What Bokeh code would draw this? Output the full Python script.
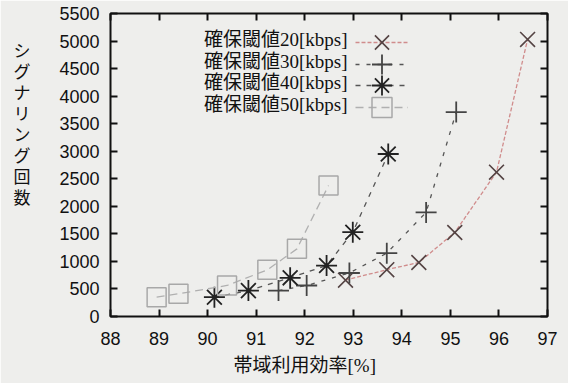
from bokeh.plotting import figure
from bokeh.models import (Range1d, LinearAxis, Label, Legend, LegendItem,
                          FixedTicker, Title)
from bokeh.embed import file_html
from bokeh.resources import INLINE

# ---- data ----
x20 = [92.84, 93.69, 94.35, 95.09, 95.95, 96.59]
y20 = [660, 850, 980, 1525, 2620, 5030]
x30 = [91.46, 92.04, 92.92, 93.69, 94.50, 95.12]
y30 = [470, 563, 790, 1150, 1890, 3710]
x40 = [90.14, 90.84, 91.70, 92.45, 92.99, 93.72]
y40 = [350, 470, 702, 925, 1530, 2950]
x50 = [88.95, 89.40, 90.40, 91.23, 91.84, 92.49]
y50 = [350, 412, 563, 847, 1228, 2378]

series_labels = ["確保閾値20[kbps]", "確保閾値30[kbps]",
                 "確保閾値40[kbps]", "確保閾値50[kbps]"]
x_ticks = list(range(88, 98))
y_ticks = list(range(0, 5501, 500))
x_title = "帯域利用効率[%]"
y_title = "シグナリング回数"

BG = "#eeeeec"
TICK_FONT = "Liberation Sans"
CJK_SERIF = "'Liberation Serif', 'Noto Sans CJK JP'"

p = figure(width=568, height=383, output_backend="svg", toolbar_location=None,
           x_range=Range1d(88, 97), y_range=Range1d(0, 5500),
           min_border_left=110, min_border_right=21, min_border_top=13,
           min_border_bottom=67, x_axis_location=None, y_axis_location=None)
p.background_fill_color = BG
p.border_fill_color = BG
p.outline_line_color = "#111111"
p.outline_line_width = 2
p.xgrid.visible = False
p.ygrid.visible = False


def style_axis(ax, ticks, show_labels, standoff=11):
    ax.ticker = FixedTicker(ticks=ticks)
    ax.axis_line_color = None
    ax.major_tick_in = 7
    ax.major_tick_out = 0
    ax.major_tick_line_width = 2
    ax.major_tick_line_color = "#111111"
    ax.minor_tick_line_color = None
    if show_labels:
        ax.major_label_text_font = TICK_FONT
        ax.major_label_text_font_size = "18px"
        ax.major_label_text_color = "#111111"
        ax.major_label_standoff = standoff
    else:
        ax.major_label_text_font_size = "0px"
        ax.major_label_standoff = 0


bx = LinearAxis(); style_axis(bx, x_ticks, True, 15); p.add_layout(bx, "below")
lx = LinearAxis(); style_axis(lx, y_ticks, True, 11)
# vertical (stacked) title; trailing blank lines lift it towards the top
lx.axis_label = "\n".join(y_title) + "\n" * 4
lx.axis_label_orientation = "horizontal"
lx.axis_label_text_font = "Noto Sans CJK JP"
lx.axis_label_text_font_size = "17px"
lx.axis_label_text_font_style = "normal"
lx.axis_label_text_color = "#111111"
lx.axis_label_text_line_height = 0.84
lx.axis_label_standoff = 26
p.add_layout(lx, "left")
tx = LinearAxis(); style_axis(tx, x_ticks, False); p.add_layout(tx, "above")
rx = LinearAxis(); style_axis(rx, y_ticks, False); p.add_layout(rx, "right")

p.add_layout(Title(text=x_title, align="left", offset=123, standoff=10,
                   vertical_align="bottom",
                   text_font=CJK_SERIF, text_font_size="19px",
                   text_font_style="normal", text_color="#111111"), "below")

# ---- series ----
l20 = p.line(x20, y20, line_color="#d08c8c", line_width=1.3, line_dash="4 2")
s20 = p.scatter(x20, y20, marker="x", size=21, line_color="#554444", line_width=1.6)
l30 = p.line(x30, y30, line_color="#555555", line_width=1.3, line_dash="4 7")
s30 = p.scatter(x30, y30, marker="cross", size=21, line_color="#444444", line_width=1.8)
l40 = p.line(x40, y40, line_color="#555555", line_width=1.3, line_dash="5 6")
s40 = p.scatter(x40, y40, marker="asterisk", size=21, line_color="#222222", line_width=1.8)
l50 = p.line(x50, y50, line_color="#b0b0b0", line_width=1.3, line_dash="8 5")
s50 = p.scatter(x50, y50, marker="square", size=19, fill_color=None,
                line_color="#a8a8a8", line_width=1.5)

# one legend per row (samples to the right of the texts, as in the original)
for i, (l, s) in enumerate([(l20, s20), (l30, s30), (l40, s40), (l50, s50)]):
    row_center = 29 + i * 21.5          # px below frame top
    leg = Legend(items=[LegendItem(label=" ", renderers=[l, s])],
                 location=(245, 303 - row_center - 25), orientation="vertical",
                 glyph_width=53, glyph_height=50, label_standoff=0, label_width=0,
                 label_height=50, spacing=0, padding=0, margin=0,
                 label_text_font_size="1px", background_fill_alpha=0,
                 border_line_color=None)
    p.add_layout(leg, "center")

# legend texts (right aligned, to the left of the samples)
for i, t in enumerate(series_labels):
    p.add_layout(Label(x=237, y=277 - i * 21.7, x_units="screen", y_units="screen",
                       text=t, text_align="right", text_baseline="middle",
                       text_font=CJK_SERIF, text_font_size="19px",
                       text_color="#111111"))

open("out.html", "w").write(file_html(p, INLINE))
